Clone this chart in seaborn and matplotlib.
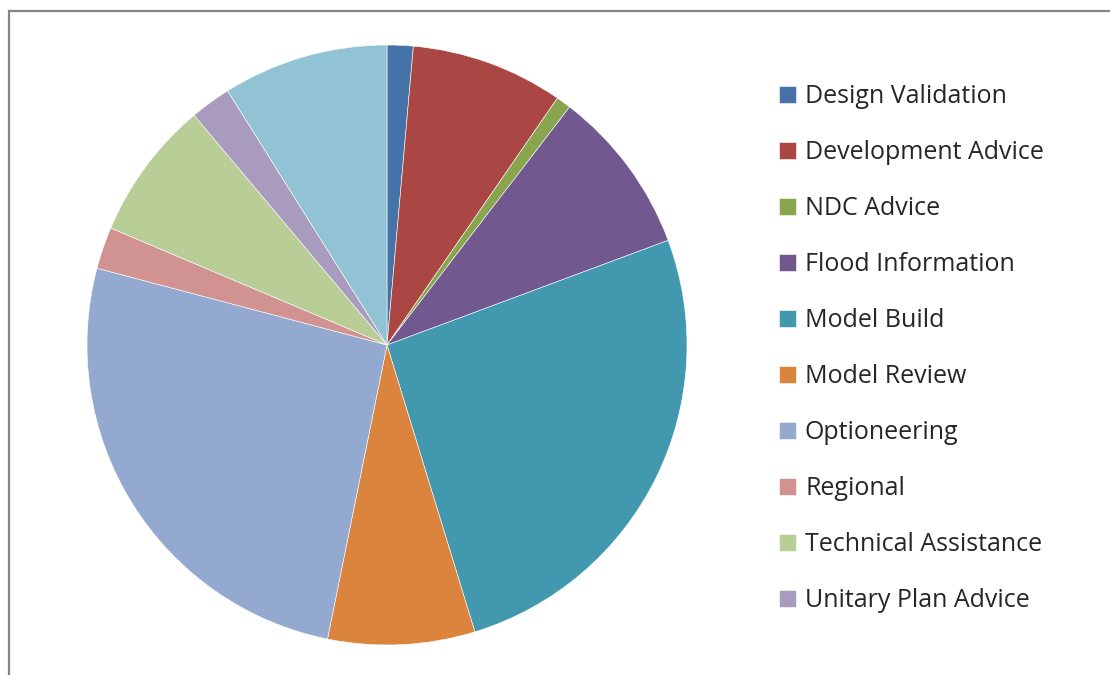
import matplotlib
matplotlib.use("Agg")
import matplotlib.pyplot as plt
import matplotlib.patches as mpatches
import seaborn as sns

# work split by category (share of total)
categories = ["Design Validation", "Development Advice", "NDC Advice",
              "Flood Information", "Model Build", "Model Review",
              "Optioneering", "Regional", "Technical Assistance",
              "Unitary Plan Advice", ""]
shares = [1.4, 8.2, 0.8, 8.9, 25.9, 7.9, 25.9, 2.25, 7.5, 2.2, 8.9]
colours = ["#4572A7", "#AA4643", "#89A54E", "#71588F", "#4198AF", "#DB843D",
           "#93A9CF", "#D19392", "#B9CD96", "#A99BBD", "#92C3D5"]

sns.set_theme(style="white")
plt.rcParams['font.family'] = ['Open Sans', 'DejaVu Sans']

W, H = 1110, 675
fig = plt.figure(figsize=(W / 100, H / 100), dpi=100)
fig.patch.set_facecolor("white")

# chart frame, cut off at right and bottom like the screenshot
frame = mpatches.Rectangle((9 / W, -0.1), 1.2, 1.1 - 11 / H,
                           transform=fig.transFigure, fill=False,
                           edgecolor="#868686", linewidth=1.6)
fig.patches.append(frame)

ax = fig.add_axes([87 / W, 30 / H, 600 / W, 600 / H])
wedges, _ = ax.pie(shares, colors=colours, startangle=90, counterclock=False,
                   radius=1.0, wedgeprops=dict(linewidth=0.4, edgecolor="white"))
ax.set_xlim(-1, 1)
ax.set_ylim(-1, 1)
ax.set_aspect("equal")
ax.axis("off")

leg = fig.legend(wedges[:10], categories[:10], loc="upper left",
                 bbox_to_anchor=(779 / W, 591 / H), frameon=False,
                 fontsize=18, handlelength=0.68, handleheight=0.68,
                 handletextpad=0.36, labelspacing=1.24, borderpad=0,
                 borderaxespad=0)
for t in leg.get_texts():
    t.set_color("#262626")

fig.savefig("out.png", dpi=100)
